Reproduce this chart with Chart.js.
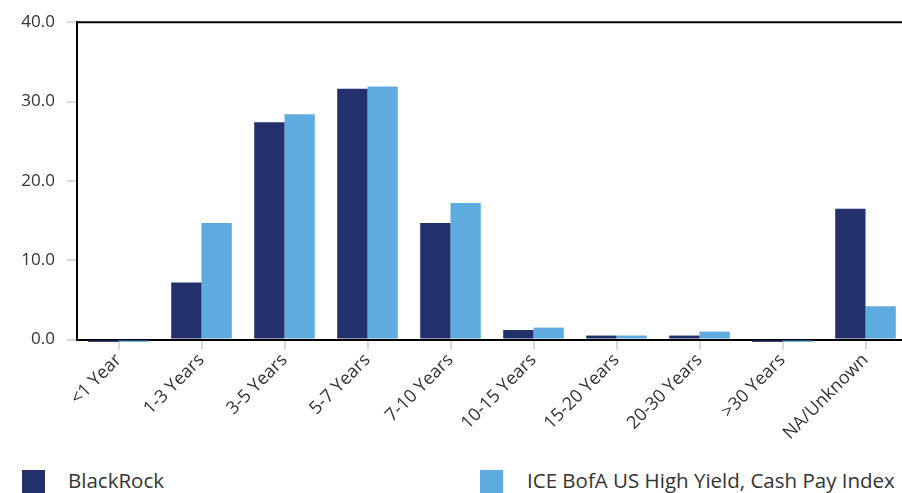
<!DOCTYPE html>
<html>
<head>
<meta charset="utf-8">
<script src="https://cdn.jsdelivr.net/npm/chart.js@4"></script>
<style>
  body { margin: 0; background: #fff; font-family: "Open Sans", sans-serif; }
  #wrap { position: relative; width: 902px; height: 493px; overflow: hidden; }
  #legend { position: absolute; top: 467px; left: 0; width: 902px; height: 26px; color: #333; font-size: 20.5px; }
  .item { position: absolute; top: 0; line-height: 26px; white-space: nowrap; }
  .sw { position: absolute; top: 3px; width: 23px; height: 23px; }
</style>
</head>
<body>
<div id="wrap">
  <canvas id="chart" width="907" height="444"></canvas>
  <div id="legend"></div>
</div>
<script>
const categories = ['<1 Year', '1-3 Years', '3-5 Years', '5-7 Years', '7-10 Years',
    '10-15 Years', '15-20 Years', '20-30 Years', '>30 Years', 'NA/Unknown'];
const blackrock = [-0.3, 7.2, 27.4, 31.6, 14.7, 1.2, 0.5, 0.5, -0.3, 16.5];
const iceIndex = [-0.3, 14.7, 28.4, 31.9, 17.2, 1.5, 0.5, 1.0, -0.3, 4.2];
const yTicks = [0, 10, 20, 30, 40];
const seriesNames = ['BlackRock', 'ICE BofA US High Yield, Cash Pay Index'];
const colors = ['#22316c', '#5eabe0'];

// top border line of the plot area
const topLine = {
    id: 'topLine',
    afterDraw(chart) {
        const a = chart.chartArea;
        const ctx = chart.ctx;
        ctx.save();
        ctx.strokeStyle = '#000';
        ctx.lineWidth = 2;
        ctx.beginPath();
        ctx.moveTo(a.left, a.top);
        ctx.lineTo(chart.width, a.top);
        ctx.stroke();
        ctx.restore();
    }
};

const ctx = document.getElementById('chart').getContext('2d');
const chart = new Chart(ctx, {
    type: 'bar',
    data: {
        labels: categories,
        datasets: [{
            label: seriesNames[0],
            backgroundColor: colors[0],
            data: blackrock,
            clip: false
        }, {
            label: seriesNames[1],
            backgroundColor: colors[1],
            data: iceIndex,
            clip: false
        }]
    },
    options: {
        responsive: false,
        animation: false,
        datasets: { bar: { barPercentage: 1, categoryPercentage: 0.73 } },
        layout: { padding: { top: 6, right: 0, left: 0, bottom: 0 } },
        plugins: { legend: { display: false }, tooltip: { enabled: false } },
        scales: {
            x: {
                grid: { drawOnChartArea: false, offset: false, color: '#d9d9d9', lineWidth: 2, tickLength: 10 },
                border: { color: '#000', width: 2 },
                ticks: {
                    color: '#333', font: { family: 'Open Sans', size: 18 },
                    minRotation: 45, maxRotation: 45, padding: 0
                }
            },
            y: {
                min: 0, max: 40,
                afterBuildTicks(axis) { axis.ticks = yTicks.map(v => ({ value: v })); },
                afterFit(axis) { axis.width = 77; },
                grid: { drawOnChartArea: false, color: '#d9d9d9', lineWidth: 2, tickLength: 10 },
                border: { color: '#000', width: 2 },
                ticks: {
                    color: '#333', font: { family: 'Open Sans', size: 17 }, padding: 12,
                    callback: v => v.toFixed(1)
                }
            }
        }
    },
    plugins: [topLine]
});

// html legend
const legend = document.getElementById('legend');
const pos = [[22, 68], [480, 527]];
seriesNames.forEach((name, i) => {
    const sw = document.createElement('div');
    sw.className = 'sw';
    sw.style.left = pos[i][0] + 'px';
    sw.style.background = colors[i];
    legend.appendChild(sw);
    const t = document.createElement('div');
    t.className = 'item';
    t.style.left = pos[i][1] + 'px';
    t.textContent = name;
    legend.appendChild(t);
});
</script>
</body>
</html>
